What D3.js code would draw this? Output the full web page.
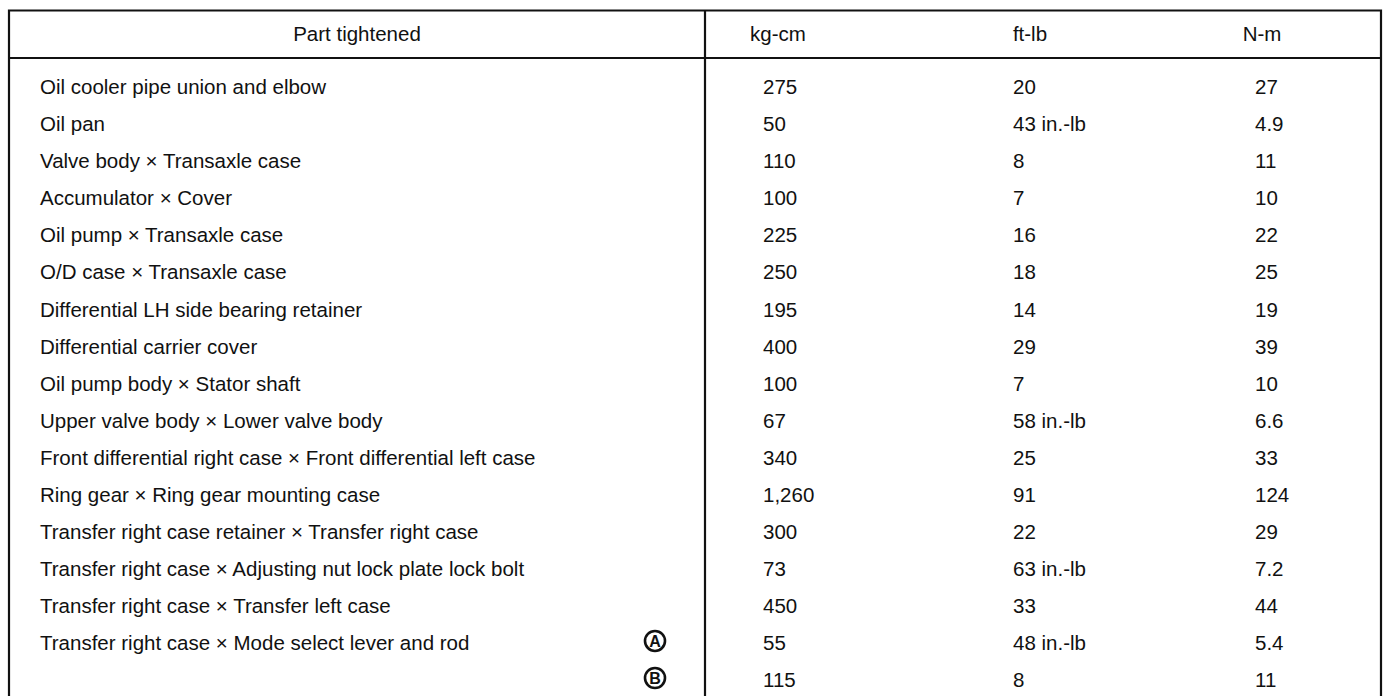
<!DOCTYPE html>
<html lang="en">
<head>
    <meta charset="UTF-8">
    <title>Torque specification</title>
    <script src="https://d3js.org/d3.v7.min.js"></script>
    <style>
        body { margin: 0; background: #fff; }
        text { font-family: "Liberation Sans", Arial, sans-serif; font-size: 20.5px; fill: #111; }
    </style>
</head>
<body>
    <div id="table"></div>
    <script>
        // table contents
        var headers = ['Part tightened', 'kg-cm', 'ft-lb', 'N-m'];
        var parts = [
            'Oil cooler pipe union and elbow',
            'Oil pan',
            'Valve body \u00d7 Transaxle case',
            'Accumulator \u00d7 Cover',
            'Oil pump \u00d7 Transaxle case',
            'O/D case \u00d7 Transaxle case',
            'Differential LH side bearing retainer',
            'Differential carrier cover',
            'Oil pump body \u00d7 Stator shaft',
            'Upper valve body \u00d7 Lower valve body',
            'Front differential right case \u00d7 Front differential left case',
            'Ring gear \u00d7 Ring gear mounting case',
            'Transfer right case retainer \u00d7 Transfer right case',
            'Transfer right case \u00d7 Adjusting nut lock plate lock bolt',
            'Transfer right case \u00d7 Transfer left case',
            'Transfer right case \u00d7 Mode select lever and rod',
            ''
        ];
        var kgcm = ['275', '50', '110', '100', '225', '250', '195', '400', '100', '67', '340', '1,260', '300', '73', '450', '55', '115'];
        var ftlb = ['20', '43 in.-lb', '8', '7', '16', '18', '14', '29', '7', '58 in.-lb', '25', '91', '22', '63 in.-lb', '33', '48 in.-lb', '8'];
        var nm = ['27', '4.9', '11', '10', '22', '25', '19', '39', '10', '6.6', '33', '124', '29', '7.2', '44', '5.4', '11'];
        var marks = ['', '', '', '', '', '', '', '', '', '', '', '', '', '', '', 'A', 'B'];

        var width = 1385, height = 696;
        var svg = d3.select('#table')
            .append('svg')
            .attr('width', width)
            .attr('height', height);

        var frameL = 9, frameR = 1381, frameT = 10.5, headBottom = 58, split = 705;

        var rows = d3.scalePoint()
            .domain(d3.range(parts.length))
            .range([87, 680]);

        // column text x positions (left aligned values)
        var colX = d3.scaleOrdinal()
            .domain(['part', 'kgcm', 'ftlb', 'nm'])
            .range([40, 763, 1013, 1255]);
        var headX = [357, 778, 1030, 1262];

        // frame
        svg.append('path')
            .attr('d', 'M' + frameL + ',' + height + 'V' + frameT + 'H' + frameR + 'V' + height)
            .attr('fill', 'none')
            .attr('stroke', '#111')
            .attr('stroke-width', 2.2);
        svg.append('line')
            .attr('x1', frameL).attr('x2', frameR)
            .attr('y1', headBottom).attr('y2', headBottom)
            .attr('stroke', '#111')
            .attr('stroke-width', 2.2);
        svg.append('line')
            .attr('x1', split).attr('x2', split)
            .attr('y1', frameT).attr('y2', height)
            .attr('stroke', '#111')
            .attr('stroke-width', 2.2);

        svg.selectAll('text.head')
            .data(headers)
            .enter().append('text')
            .attr('class', 'head')
            .attr('x', function(d, i) { return headX[i]; })
            .attr('y', 34)
            .attr('dy', '0.35em')
            .attr('text-anchor', 'middle')
            .text(function(d) { return d; });

        var cols = [['part', parts], ['kgcm', kgcm], ['ftlb', ftlb], ['nm', nm]];
        cols.forEach(function(c) {
            svg.selectAll('text.c-' + c[0])
                .data(c[1])
                .enter().append('text')
                .attr('class', 'c-' + c[0])
                .attr('x', colX(c[0]))
                .attr('y', function(d, i) { return rows(i); })
                .attr('dy', '0.35em')
                .text(function(d) { return d; });
        });

        // circled letters A / B
        var mk = svg.selectAll('g.mark')
            .data(marks.map(function(m, i) { return {m: m, i: i}; }).filter(function(d) { return d.m; }))
            .enter().append('g')
            .attr('class', 'mark')
            .attr('transform', function(d) { return 'translate(655,' + (rows(d.i) - 2) + ')'; });
        mk.append('circle')
            .attr('r', 10)
            .attr('fill', 'none')
            .attr('stroke', '#111')
            .attr('stroke-width', 2.6);
        mk.append('text')
            .attr('text-anchor', 'middle')
            .attr('dy', '0.36em')
            .style('font-size', '16px')
            .style('font-weight', 'bold')
            .text(function(d) { return d.m; });
    </script>
</body>
</html>
